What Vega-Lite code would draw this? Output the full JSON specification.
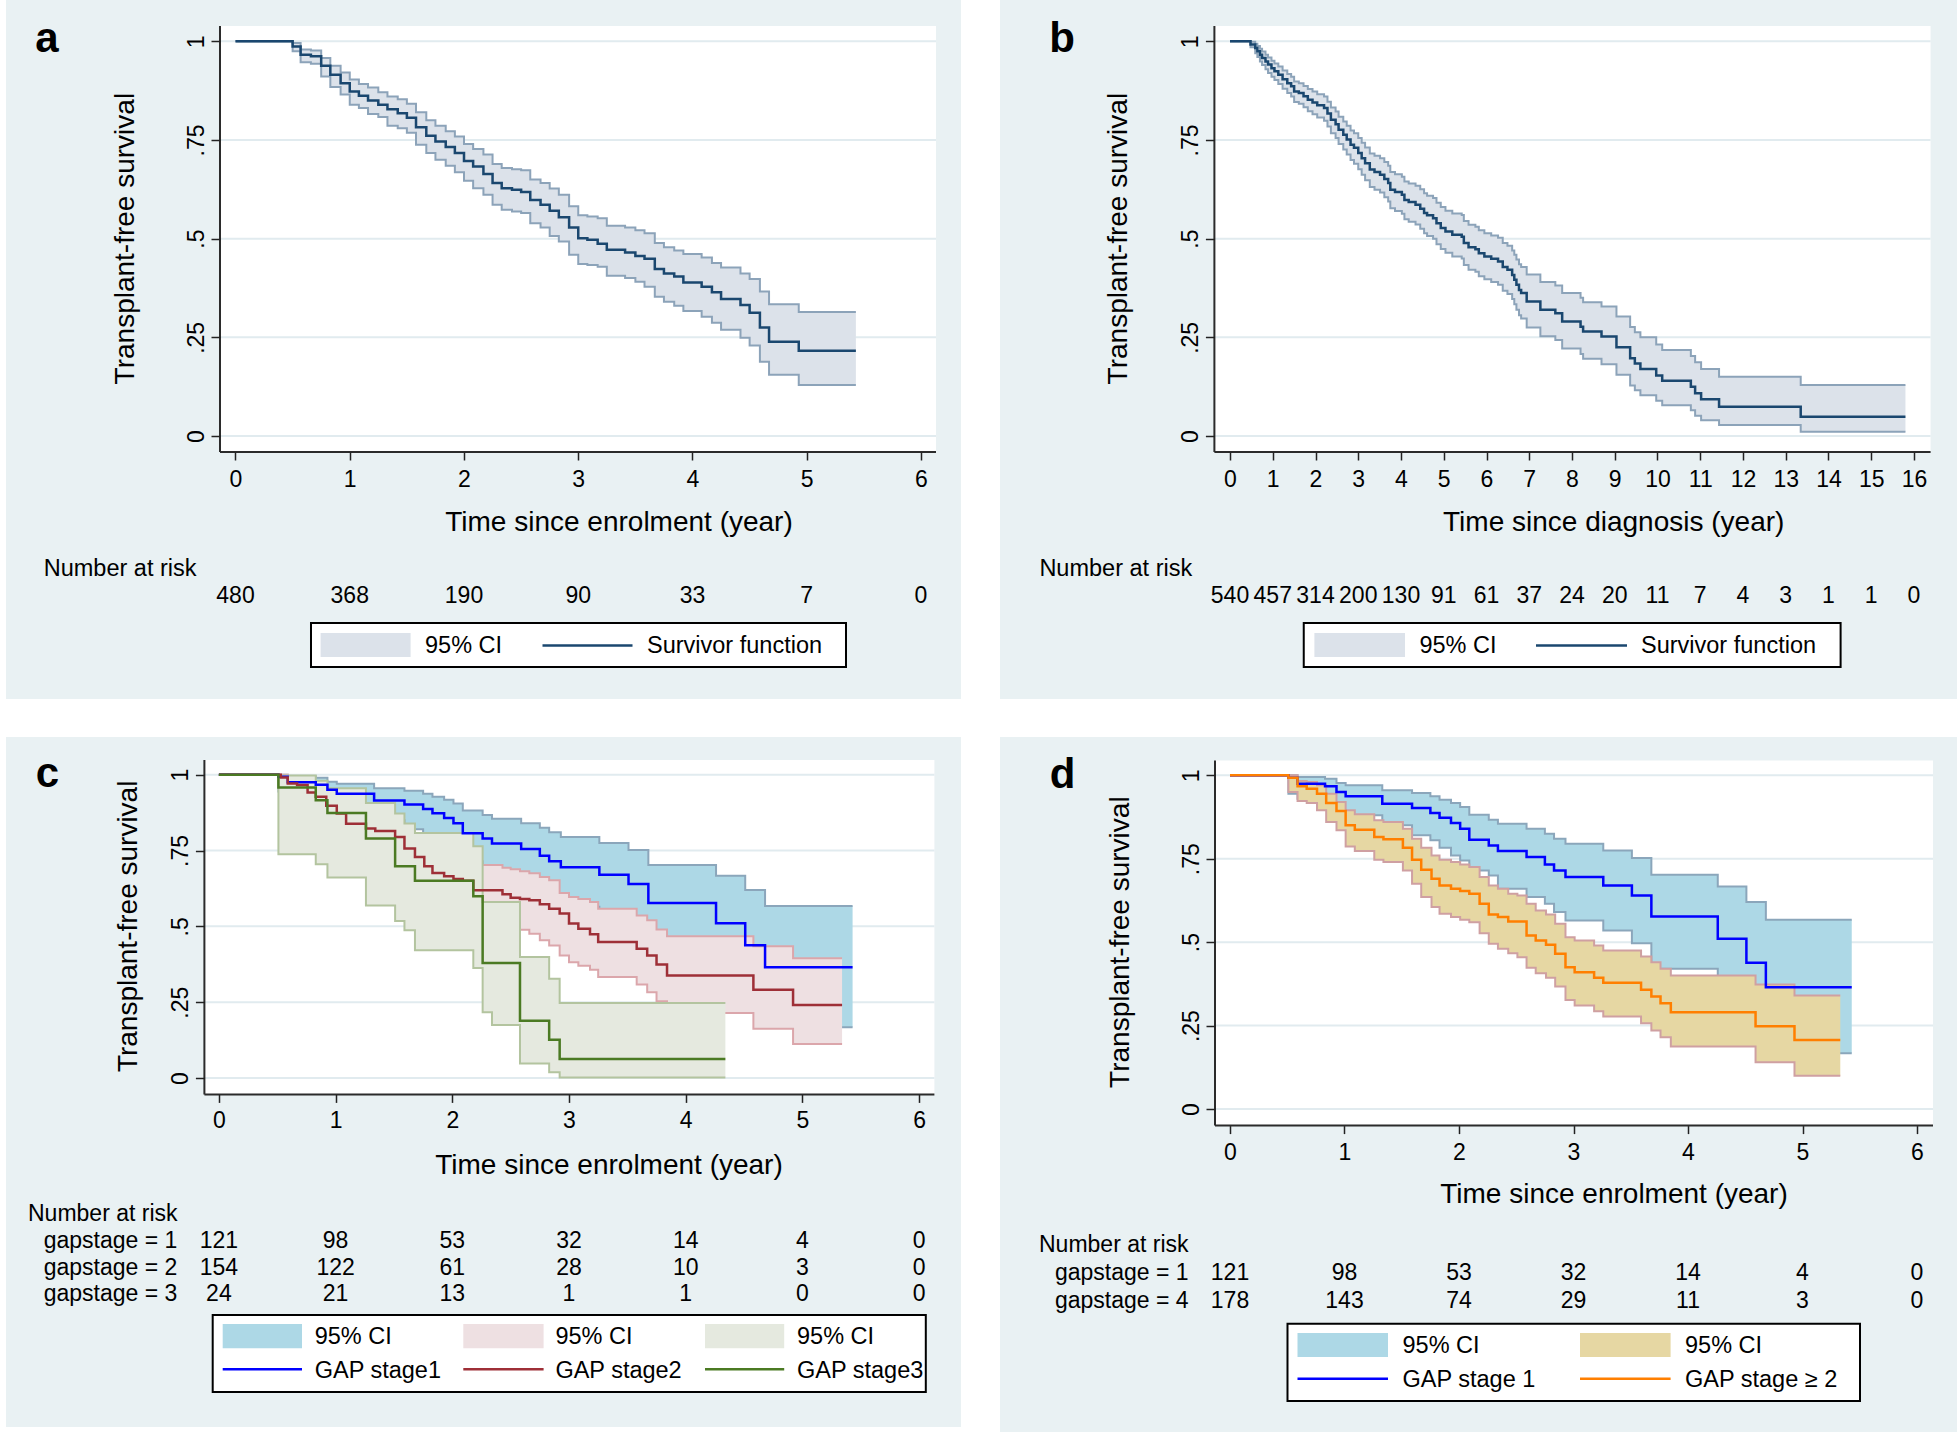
{
"$schema": "https://vega.github.io/schema/vega-lite/v6.json",
"background": "#ffffff",
"padding": {"left": 6, "top": 0, "right": 0, "bottom": 0},
"config": {
  "view": {"stroke": null, "fill": "#e9f1f3"},
  "axis": {"domain": false, "grid": false, "ticks": true, "tickColor": "#222222", "tickWidth": 1.5, "labelFont": "Liberation Sans", "labelFontSize": 23, "labelColor": "#000000", "labelFlush": false, "labelOverlap": false, "labelBound": false, "title": null},
  "text": {"font": "Liberation Sans", "color": "#000000"}
},
"datasets": {
  "grid": [{"v":0},{"v":0.25},{"v":0.5},{"v":0.75},{"v":1}],
  "a_km": [
    {"t":0,"s":1,"lo":1,"hi":1},{"t":0.5,"s":0.987,"lo":0.975,"hi":0.996},{"t":0.57,"s":0.966,"lo":0.947,"hi":0.979},{"t":0.66,"s":0.962,"lo":0.943,"hi":0.977},{"t":0.75,"s":0.938,"lo":0.911,"hi":0.958},{"t":0.83,"s":0.915,"lo":0.884,"hi":0.938},{"t":0.92,"s":0.894,"lo":0.865,"hi":0.921},{"t":1.0,"s":0.873,"lo":0.839,"hi":0.903},{"t":1.08,"s":0.862,"lo":0.831,"hi":0.892},{"t":1.16,"s":0.85,"lo":0.816,"hi":0.883},{"t":1.25,"s":0.839,"lo":0.808,"hi":0.871},{"t":1.33,"s":0.828,"lo":0.786,"hi":0.86},{"t":1.42,"s":0.818,"lo":0.78,"hi":0.853},{"t":1.5,"s":0.806,"lo":0.768,"hi":0.842},{"t":1.58,"s":0.782,"lo":0.738,"hi":0.82},{"t":1.67,"s":0.761,"lo":0.717,"hi":0.8},{"t":1.75,"s":0.746,"lo":0.7,"hi":0.786},{"t":1.84,"s":0.732,"lo":0.685,"hi":0.772},{"t":1.92,"s":0.717,"lo":0.668,"hi":0.759},{"t":2.0,"s":0.697,"lo":0.647,"hi":0.74},{"t":2.08,"s":0.683,"lo":0.628,"hi":0.727},{"t":2.17,"s":0.664,"lo":0.611,"hi":0.713},{"t":2.25,"s":0.641,"lo":0.586,"hi":0.689},{"t":2.33,"s":0.628,"lo":0.573,"hi":0.679},{"t":2.42,"s":0.624,"lo":0.569,"hi":0.676},{"t":2.5,"s":0.618,"lo":0.565,"hi":0.673},{"t":2.58,"s":0.598,"lo":0.539,"hi":0.65},{"t":2.67,"s":0.586,"lo":0.528,"hi":0.641},{"t":2.75,"s":0.571,"lo":0.507,"hi":0.627},{"t":2.83,"s":0.554,"lo":0.493,"hi":0.611},{"t":2.92,"s":0.528,"lo":0.459,"hi":0.582},{"t":3.0,"s":0.501,"lo":0.436,"hi":0.559},{"t":3.08,"s":0.497,"lo":0.433,"hi":0.556},{"t":3.17,"s":0.487,"lo":0.429,"hi":0.552},{"t":3.25,"s":0.472,"lo":0.406,"hi":0.533},{"t":3.41,"s":0.465,"lo":0.4,"hi":0.528},{"t":3.5,"s":0.456,"lo":0.391,"hi":0.521},{"t":3.58,"s":0.449,"lo":0.378,"hi":0.514},{"t":3.67,"s":0.423,"lo":0.353,"hi":0.489},{"t":3.75,"s":0.412,"lo":0.34,"hi":0.478},{"t":3.84,"s":0.404,"lo":0.33,"hi":0.47},{"t":3.92,"s":0.389,"lo":0.317,"hi":0.461},{"t":4.08,"s":0.378,"lo":0.302,"hi":0.452},{"t":4.17,"s":0.364,"lo":0.287,"hi":0.438},{"t":4.25,"s":0.347,"lo":0.269,"hi":0.427},{"t":4.42,"s":0.332,"lo":0.249,"hi":0.412},{"t":4.5,"s":0.312,"lo":0.229,"hi":0.398},{"t":4.59,"s":0.275,"lo":0.188,"hi":0.366},{"t":4.67,"s":0.239,"lo":0.155,"hi":0.334},{"t":4.93,"s":0.216,"lo":0.129,"hi":0.314},{"t":5.43,"s":0.216,"lo":0.129,"hi":0.314}
  ],
  "b_km": [
    {"t":0,"s":1,"lo":1,"hi":1},{"t":0.48,"s":0.992,"lo":0.985,"hi":0.999},{"t":0.59,"s":0.983,"lo":0.97,"hi":0.994},{"t":0.64,"s":0.975,"lo":0.96,"hi":0.988},{"t":0.7,"s":0.966,"lo":0.949,"hi":0.981},{"t":0.75,"s":0.958,"lo":0.94,"hi":0.974},{"t":0.83,"s":0.949,"lo":0.929,"hi":0.966},{"t":0.89,"s":0.941,"lo":0.92,"hi":0.959},{"t":0.97,"s":0.932,"lo":0.91,"hi":0.951},{"t":1.04,"s":0.924,"lo":0.902,"hi":0.944},{"t":1.13,"s":0.915,"lo":0.892,"hi":0.936},{"t":1.23,"s":0.904,"lo":0.88,"hi":0.926},{"t":1.34,"s":0.894,"lo":0.869,"hi":0.917},{"t":1.43,"s":0.886,"lo":0.86,"hi":0.91},{"t":1.5,"s":0.873,"lo":0.846,"hi":0.898},{"t":1.61,"s":0.869,"lo":0.842,"hi":0.894},{"t":1.72,"s":0.861,"lo":0.833,"hi":0.887},{"t":1.82,"s":0.852,"lo":0.823,"hi":0.879},{"t":1.93,"s":0.845,"lo":0.815,"hi":0.873},{"t":2.04,"s":0.838,"lo":0.807,"hi":0.866},{"t":2.2,"s":0.831,"lo":0.799,"hi":0.86},{"t":2.28,"s":0.817,"lo":0.784,"hi":0.847},{"t":2.36,"s":0.801,"lo":0.767,"hi":0.832},{"t":2.47,"s":0.79,"lo":0.755,"hi":0.822},{"t":2.54,"s":0.776,"lo":0.74,"hi":0.809},{"t":2.65,"s":0.763,"lo":0.726,"hi":0.797},{"t":2.73,"s":0.751,"lo":0.713,"hi":0.786},{"t":2.82,"s":0.738,"lo":0.699,"hi":0.774},{"t":2.9,"s":0.73,"lo":0.69,"hi":0.767},{"t":3.0,"s":0.717,"lo":0.676,"hi":0.755},{"t":3.08,"s":0.704,"lo":0.662,"hi":0.743},{"t":3.16,"s":0.691,"lo":0.648,"hi":0.731},{"t":3.27,"s":0.675,"lo":0.631,"hi":0.716},{"t":3.38,"s":0.669,"lo":0.624,"hi":0.71},{"t":3.51,"s":0.662,"lo":0.617,"hi":0.704},{"t":3.61,"s":0.651,"lo":0.605,"hi":0.694},{"t":3.7,"s":0.641,"lo":0.594,"hi":0.685},{"t":3.75,"s":0.624,"lo":0.577,"hi":0.669},{"t":3.86,"s":0.618,"lo":0.57,"hi":0.663},{"t":4.02,"s":0.611,"lo":0.563,"hi":0.657},{"t":4.08,"s":0.598,"lo":0.549,"hi":0.645},{"t":4.18,"s":0.593,"lo":0.543,"hi":0.64},{"t":4.34,"s":0.586,"lo":0.536,"hi":0.634},{"t":4.45,"s":0.576,"lo":0.525,"hi":0.625},{"t":4.54,"s":0.565,"lo":0.514,"hi":0.615},{"t":4.61,"s":0.559,"lo":0.507,"hi":0.609},{"t":4.75,"s":0.552,"lo":0.5,"hi":0.603},{"t":4.83,"s":0.539,"lo":0.486,"hi":0.591},{"t":4.93,"s":0.527,"lo":0.474,"hi":0.58},{"t":5.04,"s":0.518,"lo":0.464,"hi":0.571},{"t":5.2,"s":0.51,"lo":0.455,"hi":0.564},{"t":5.42,"s":0.505,"lo":0.45,"hi":0.56},{"t":5.47,"s":0.489,"lo":0.433,"hi":0.545},{"t":5.58,"s":0.478,"lo":0.421,"hi":0.535},{"t":5.74,"s":0.473,"lo":0.416,"hi":0.53},{"t":5.82,"s":0.463,"lo":0.405,"hi":0.521},{"t":5.95,"s":0.455,"lo":0.397,"hi":0.514},{"t":6.11,"s":0.449,"lo":0.39,"hi":0.508},{"t":6.27,"s":0.442,"lo":0.383,"hi":0.502},{"t":6.38,"s":0.428,"lo":0.368,"hi":0.489},{"t":6.49,"s":0.421,"lo":0.36,"hi":0.482},{"t":6.6,"s":0.408,"lo":0.347,"hi":0.47},{"t":6.65,"s":0.396,"lo":0.334,"hi":0.459},{"t":6.7,"s":0.383,"lo":0.32,"hi":0.447},{"t":6.76,"s":0.37,"lo":0.306,"hi":0.435},{"t":6.81,"s":0.362,"lo":0.298,"hi":0.428},{"t":6.94,"s":0.341,"lo":0.275,"hi":0.409},{"t":7.26,"s":0.32,"lo":0.253,"hi":0.39},{"t":7.61,"s":0.311,"lo":0.243,"hi":0.381},{"t":7.77,"s":0.29,"lo":0.222,"hi":0.362},{"t":8.2,"s":0.277,"lo":0.208,"hi":0.35},{"t":8.26,"s":0.265,"lo":0.196,"hi":0.339},{"t":8.69,"s":0.252,"lo":0.182,"hi":0.328},{"t":9.04,"s":0.225,"lo":0.155,"hi":0.303},{"t":9.36,"s":0.197,"lo":0.128,"hi":0.276},{"t":9.47,"s":0.184,"lo":0.116,"hi":0.263},{"t":9.6,"s":0.17,"lo":0.103,"hi":0.25},{"t":9.97,"s":0.153,"lo":0.089,"hi":0.232},{"t":10.11,"s":0.14,"lo":0.078,"hi":0.218},{"t":10.78,"s":0.125,"lo":0.065,"hi":0.203},{"t":10.88,"s":0.108,"lo":0.051,"hi":0.187},{"t":11.02,"s":0.093,"lo":0.04,"hi":0.17},{"t":11.44,"s":0.074,"lo":0.028,"hi":0.15},{"t":13.35,"s":0.049,"lo":0.011,"hi":0.129},{"t":15.8,"s":0.049,"lo":0.011,"hi":0.129}
  ],
  "g1": [
    {"t":0,"s":1,"lo":1,"hi":1},{"t":0.51,"s":0.993,"lo":0.945,"hi":1.0},{"t":0.59,"s":0.975,"lo":0.93,"hi":0.995},{"t":0.83,"s":0.967,"lo":0.92,"hi":0.99},{"t":0.93,"s":0.95,"lo":0.895,"hi":0.977},{"t":1.01,"s":0.937,"lo":0.88,"hi":0.97},{"t":1.33,"s":0.915,"lo":0.85,"hi":0.955},{"t":1.59,"s":0.902,"lo":0.82,"hi":0.947},{"t":1.75,"s":0.887,"lo":0.805,"hi":0.937},{"t":1.83,"s":0.873,"lo":0.783,"hi":0.927},{"t":1.93,"s":0.857,"lo":0.76,"hi":0.917},{"t":2.01,"s":0.84,"lo":0.745,"hi":0.905},{"t":2.09,"s":0.807,"lo":0.715,"hi":0.882},{"t":2.26,"s":0.79,"lo":0.7,"hi":0.867},{"t":2.34,"s":0.773,"lo":0.66,"hi":0.855},{"t":2.59,"s":0.755,"lo":0.635,"hi":0.84},{"t":2.75,"s":0.733,"lo":0.615,"hi":0.825},{"t":2.83,"s":0.715,"lo":0.59,"hi":0.81},{"t":2.93,"s":0.695,"lo":0.565,"hi":0.795},{"t":3.26,"s":0.67,"lo":0.535,"hi":0.775},{"t":3.51,"s":0.64,"lo":0.497,"hi":0.752},{"t":3.68,"s":0.577,"lo":0.42,"hi":0.702},{"t":4.26,"s":0.51,"lo":0.33,"hi":0.667},{"t":4.51,"s":0.438,"lo":0.25,"hi":0.62},{"t":4.68,"s":0.365,"lo":0.167,"hi":0.567},{"t":5.43,"s":0.365,"lo":0.167,"hi":0.567}
  ],
  "g2": [
    {"t":0,"s":1,"lo":1,"hi":1},{"t":0.53,"s":0.991,"lo":0.965,"hi":1.0},{"t":0.59,"s":0.971,"lo":0.94,"hi":0.99},{"t":0.67,"s":0.966,"lo":0.935,"hi":0.985},{"t":0.76,"s":0.941,"lo":0.905,"hi":0.965},{"t":0.83,"s":0.927,"lo":0.89,"hi":0.955},{"t":0.92,"s":0.898,"lo":0.855,"hi":0.93},{"t":1.01,"s":0.872,"lo":0.825,"hi":0.91},{"t":1.09,"s":0.838,"lo":0.79,"hi":0.878},{"t":1.26,"s":0.823,"lo":0.775,"hi":0.865},{"t":1.34,"s":0.814,"lo":0.765,"hi":0.857},{"t":1.51,"s":0.795,"lo":0.74,"hi":0.84},{"t":1.59,"s":0.757,"lo":0.695,"hi":0.805},{"t":1.68,"s":0.729,"lo":0.665,"hi":0.78},{"t":1.76,"s":0.698,"lo":0.63,"hi":0.75},{"t":1.83,"s":0.676,"lo":0.608,"hi":0.73},{"t":1.93,"s":0.665,"lo":0.595,"hi":0.725},{"t":2.01,"s":0.656,"lo":0.585,"hi":0.718},{"t":2.09,"s":0.65,"lo":0.578,"hi":0.712},{"t":2.18,"s":0.619,"lo":0.55,"hi":0.702},{"t":2.43,"s":0.606,"lo":0.535,"hi":0.693},{"t":2.5,"s":0.594,"lo":0.51,"hi":0.688},{"t":2.58,"s":0.59,"lo":0.489,"hi":0.682},{"t":2.66,"s":0.586,"lo":0.476,"hi":0.675},{"t":2.75,"s":0.573,"lo":0.454,"hi":0.663},{"t":2.83,"s":0.558,"lo":0.437,"hi":0.652},{"t":2.92,"s":0.542,"lo":0.404,"hi":0.61},{"t":3.0,"s":0.509,"lo":0.382,"hi":0.597},{"t":3.08,"s":0.492,"lo":0.37,"hi":0.59},{"t":3.18,"s":0.474,"lo":0.357,"hi":0.58},{"t":3.25,"s":0.448,"lo":0.333,"hi":0.558},{"t":3.58,"s":0.426,"lo":0.308,"hi":0.536},{"t":3.67,"s":0.404,"lo":0.283,"hi":0.52},{"t":3.75,"s":0.374,"lo":0.253,"hi":0.49},{"t":3.84,"s":0.338,"lo":0.214,"hi":0.467},{"t":4.58,"s":0.291,"lo":0.162,"hi":0.434},{"t":4.92,"s":0.241,"lo":0.112,"hi":0.395},{"t":5.34,"s":0.241,"lo":0.112,"hi":0.395}
  ],
  "g3": [
    {"t":0,"s":1,"lo":1,"hi":1},{"t":0.51,"s":0.958,"lo":0.738,"hi":0.997},{"t":0.83,"s":0.916,"lo":0.705,"hi":0.98},{"t":0.93,"s":0.874,"lo":0.661,"hi":0.955},{"t":1.26,"s":0.79,"lo":0.569,"hi":0.907},{"t":1.51,"s":0.698,"lo":0.518,"hi":0.872},{"t":1.59,"s":0.698,"lo":0.487,"hi":0.839},{"t":1.68,"s":0.65,"lo":0.421,"hi":0.808},{"t":2.18,"s":0.599,"lo":0.363,"hi":0.764},{"t":2.26,"s":0.379,"lo":0.217,"hi":0.58},{"t":2.34,"s":0.379,"lo":0.175,"hi":0.58},{"t":2.58,"s":0.189,"lo":0.048,"hi":0.399},{"t":2.83,"s":0.126,"lo":0.019,"hi":0.327},{"t":2.92,"s":0.063,"lo":0.002,"hi":0.247},{"t":4.34,"s":0.063,"lo":0.002,"hi":0.247}
  ],
  "g4": [
    {"t":0,"s":1,"lo":1,"hi":1},{"t":0.51,"s":0.993,"lo":0.95,"hi":1.0},{"t":0.59,"s":0.967,"lo":0.923,"hi":0.983},{"t":0.67,"s":0.96,"lo":0.917,"hi":0.98},{"t":0.76,"s":0.945,"lo":0.895,"hi":0.97},{"t":0.84,"s":0.917,"lo":0.86,"hi":0.945},{"t":0.93,"s":0.893,"lo":0.835,"hi":0.92},{"t":1.01,"s":0.85,"lo":0.787,"hi":0.895},{"t":1.09,"s":0.837,"lo":0.773,"hi":0.883},{"t":1.26,"s":0.815,"lo":0.747,"hi":0.865},{"t":1.34,"s":0.808,"lo":0.74,"hi":0.86},{"t":1.51,"s":0.783,"lo":0.715,"hi":0.84},{"t":1.59,"s":0.747,"lo":0.675,"hi":0.81},{"t":1.67,"s":0.717,"lo":0.635,"hi":0.783},{"t":1.76,"s":0.69,"lo":0.605,"hi":0.76},{"t":1.83,"s":0.67,"lo":0.585,"hi":0.747},{"t":1.93,"s":0.66,"lo":0.575,"hi":0.74},{"t":2.01,"s":0.653,"lo":0.567,"hi":0.733},{"t":2.09,"s":0.645,"lo":0.56,"hi":0.725},{"t":2.18,"s":0.615,"lo":0.527,"hi":0.695},{"t":2.26,"s":0.583,"lo":0.495,"hi":0.67},{"t":2.34,"s":0.575,"lo":0.48,"hi":0.66},{"t":2.43,"s":0.562,"lo":0.467,"hi":0.645},{"t":2.51,"s":0.562,"lo":0.455,"hi":0.64},{"t":2.59,"s":0.52,"lo":0.423,"hi":0.615},{"t":2.67,"s":0.505,"lo":0.407,"hi":0.595},{"t":2.76,"s":0.492,"lo":0.393,"hi":0.583},{"t":2.84,"s":0.465,"lo":0.367,"hi":0.555},{"t":2.93,"s":0.425,"lo":0.327,"hi":0.515},{"t":3.01,"s":0.41,"lo":0.31,"hi":0.505},{"t":3.18,"s":0.393,"lo":0.293,"hi":0.49},{"t":3.26,"s":0.378,"lo":0.277,"hi":0.475},{"t":3.59,"s":0.357,"lo":0.257,"hi":0.457},{"t":3.68,"s":0.337,"lo":0.235,"hi":0.44},{"t":3.76,"s":0.317,"lo":0.215,"hi":0.42},{"t":3.85,"s":0.29,"lo":0.187,"hi":0.4},{"t":4.59,"s":0.248,"lo":0.14,"hi":0.373},{"t":4.93,"s":0.207,"lo":0.1,"hi":0.34},{"t":5.33,"s":0.207,"lo":0.1,"hi":0.34}
  ],
  "a_risk": [{"t":0,"n":"480"},{"t":1,"n":"368"},{"t":2,"n":"190"},{"t":3,"n":"90"},{"t":4,"n":"33"},{"t":5,"n":"7"},{"t":6,"n":"0"}],
  "b_risk": [{"t":0,"n":"540"},{"t":1,"n":"457"},{"t":2,"n":"314"},{"t":3,"n":"200"},{"t":4,"n":"130"},{"t":5,"n":"91"},{"t":6,"n":"61"},{"t":7,"n":"37"},{"t":8,"n":"24"},{"t":9,"n":"20"},{"t":10,"n":"11"},{"t":11,"n":"7"},{"t":12,"n":"4"},{"t":13,"n":"3"},{"t":14,"n":"1"},{"t":15,"n":"1"},{"t":16,"n":"0"}],
  "c_risk": [
    {"g":1,"t":0,"n":"121"},{"g":1,"t":1,"n":"98"},{"g":1,"t":2,"n":"53"},{"g":1,"t":3,"n":"32"},{"g":1,"t":4,"n":"14"},{"g":1,"t":5,"n":"4"},{"g":1,"t":6,"n":"0"},
    {"g":2,"t":0,"n":"154"},{"g":2,"t":1,"n":"122"},{"g":2,"t":2,"n":"61"},{"g":2,"t":3,"n":"28"},{"g":2,"t":4,"n":"10"},{"g":2,"t":5,"n":"3"},{"g":2,"t":6,"n":"0"},
    {"g":3,"t":0,"n":"24"},{"g":3,"t":1,"n":"21"},{"g":3,"t":2,"n":"13"},{"g":3,"t":3,"n":"1"},{"g":3,"t":4,"n":"1"},{"g":3,"t":5,"n":"0"},{"g":3,"t":6,"n":"0"}
  ],
  "d_risk": [
    {"g":1,"t":0,"n":"121"},{"g":1,"t":1,"n":"98"},{"g":1,"t":2,"n":"53"},{"g":1,"t":3,"n":"32"},{"g":1,"t":4,"n":"14"},{"g":1,"t":5,"n":"4"},{"g":1,"t":6,"n":"0"},
    {"g":4,"t":0,"n":"178"},{"g":4,"t":1,"n":"143"},{"g":4,"t":2,"n":"74"},{"g":4,"t":3,"n":"29"},{"g":4,"t":4,"n":"11"},{"g":4,"t":5,"n":"3"},{"g":4,"t":6,"n":"0"}
  ]
},
"spacing": 38,
"vconcat": [
{"hconcat": [
{
"width": 955, "height": 699,
"layer": [
  {"data": {"values": [{}]}, "mark": {"type": "rect", "fill": "#ffffff"},
   "encoding": {
     "x": {"datum": -0.13567, "type": "quantitative", "scale": {"domain": [-2.00875, 6.35011], "nice": false, "zero": false},
           "axis": {"orient": "bottom", "offset": -247, "values": [0,1,2,3,4,5,6], "format": "d", "tickSize": 8, "labelPadding": 8, "title": null, "zindex": 1}},
     "x2": {"datum": 6.13129},
     "y": {"datum": 1.03876, "type": "quantitative", "scale": {"domain": [-0.66633, 1.10464], "nice": false, "zero": false},
           "axis": {"orient": "left", "offset": -214, "values": [0,0.25,0.5,0.75,1], "labelExpr": "datum.value == 1 ? '1' : datum.value == 0.75 ? '.75' : datum.value == 0.5 ? '.5' : datum.value == 0.25 ? '.25' : '0'", "labelAngle": 270, "labelAlign": "center", "labelBaseline": "alphabetic", "tickSize": 9, "labelPadding": 8, "title": null, "zindex": 1}},
     "y2": {"datum": -0.04054}}},
  {"data": {"name": "grid"}, "mark": {"type": "rule", "color": "#e1ebef", "strokeWidth": 2},
   "encoding": {"x": {"datum": -0.13567, "type": "quantitative"}, "x2": {"datum": 6.13129}, "y": {"field": "v", "type": "quantitative"}}},
  {"data": {"name": "a_km"}, "mark": {"type": "area", "interpolate": "step-after", "color": "#dce2ea"},
   "encoding": {"x": {"field": "t", "type": "quantitative"}, "y": {"field": "lo", "type": "quantitative"}, "y2": {"field": "hi"}}},
  {"data": {"name": "a_km"}, "mark": {"type": "line", "interpolate": "step-after", "color": "#8ca3b9", "strokeWidth": 2},
   "encoding": {"x": {"field": "t", "type": "quantitative"}, "y": {"field": "lo", "type": "quantitative"}}},
  {"data": {"name": "a_km"}, "mark": {"type": "line", "interpolate": "step-after", "color": "#8ca3b9", "strokeWidth": 2},
   "encoding": {"x": {"field": "t", "type": "quantitative"}, "y": {"field": "hi", "type": "quantitative"}}},
  {"data": {"name": "a_km"}, "mark": {"type": "line", "interpolate": "step-after", "color": "#1a476f", "strokeWidth": 2.5},
   "encoding": {"x": {"field": "t", "type": "quantitative"}, "y": {"field": "s", "type": "quantitative"}}},
  {"data": {"values": [{}]}, "mark": {"type": "rule", "color": "#2b2b2b", "strokeWidth": 2},
   "encoding": {"x": {"datum": -0.13567, "type": "quantitative"}, "x2": {"datum": 6.13129}, "y": {"datum": -0.04054, "type": "quantitative"}}},
  {"data": {"values": [{}]}, "mark": {"type": "rule", "color": "#2b2b2b", "strokeWidth": 2},
   "encoding": {"x": {"datum": -0.13567, "type": "quantitative"}, "y": {"datum": -0.04054, "type": "quantitative"}, "y2": {"datum": 1.03876}}},
  {"data": {"values": [{}]}, "mark": {"type": "text", "text": "a", "fontSize": 42, "fontWeight": "bold", "align": "center", "baseline": "alphabetic"},
   "encoding": {"x": {"datum": -1.6499, "type": "quantitative"}, "y": {"datum": 0.97163, "type": "quantitative"}}},
  {"data": {"values": [{}]}, "mark": {"type": "text", "text": "Transplant-free survival", "fontSize": 28, "angle": 270, "align": "center", "baseline": "alphabetic"},
   "encoding": {"x": {"datum": -0.88403, "type": "quantitative"}, "y": {"datum": 0.5, "type": "quantitative"}}},
  {"data": {"values": [{}]}, "mark": {"type": "text", "text": "Time since enrolment (year)", "fontSize": 28, "align": "center", "baseline": "alphabetic"},
   "encoding": {"x": {"datum": 3.35667, "type": "quantitative"}, "y": {"datum": -0.24069, "type": "quantitative"}}},
  {"data": {"values": [{}]}, "mark": {"type": "text", "text": "Number at risk", "fontSize": 23.5, "align": "left", "baseline": "alphabetic"},
   "encoding": {"x": {"datum": -1.67834, "type": "quantitative"}, "y": {"datum": -0.3547, "type": "quantitative"}}},
  {"data": {"name": "a_risk"}, "mark": {"type": "text", "fontSize": 23, "align": "center", "baseline": "alphabetic"},
   "encoding": {"x": {"field": "t", "type": "quantitative"}, "y": {"datum": -0.42311, "type": "quantitative"}, "text": {"field": "n", "type": "nominal"}}},
  {"data": {"values": [{}]}, "mark": {"type": "rect", "fill": "#ffffff", "stroke": "#000000", "strokeWidth": 2},
   "encoding": {"x": {"datum": 0.66083, "type": "quantitative"}, "x2": {"datum": 5.34354}, "y": {"datum": -0.47378, "type": "quantitative"}, "y2": {"datum": -0.58525}}},
  {"data": {"values": [{}]}, "mark": {"type": "rect", "fill": "#dce2ea"},
   "encoding": {"x": {"datum": 0.74486, "type": "quantitative"}, "x2": {"datum": 1.5326}, "y": {"datum": -0.49911, "type": "quantitative"}, "y2": {"datum": -0.55992}}},
  {"data": {"values": [{}]}, "mark": {"type": "rule", "color": "#1a476f", "strokeWidth": 2.5},
   "encoding": {"x": {"datum": 2.68709, "type": "quantitative"}, "x2": {"datum": 3.47484}, "y": {"datum": -0.53053, "type": "quantitative"}}},
  {"data": {"values": [{}]}, "mark": {"type": "text", "text": "95% CI", "fontSize": 23.5, "align": "left", "baseline": "alphabetic"},
   "encoding": {"x": {"datum": 1.65864, "type": "quantitative"}, "y": {"datum": -0.55, "type": "quantitative"}}},
  {"data": {"values": [{}]}, "mark": {"type": "text", "text": "Survivor function", "fontSize": 23.5, "align": "left", "baseline": "alphabetic"},
   "encoding": {"x": {"datum": 3.60175, "type": "quantitative"}, "y": {"datum": -0.55, "type": "quantitative"}}}
]
},
{
"width": 957, "height": 699,
"layer": [
  {"data": {"values": [{}]}, "mark": {"type": "rect", "fill": "#ffffff"},
   "encoding": {
     "x": {"datum": -0.36491, "type": "quantitative", "scale": {"domain": [-5.38012, 17.00585], "nice": false, "zero": false},
           "axis": {"orient": "bottom", "offset": -247, "values": [0,1,2,3,4,5,6,7,8,9,10,11,12,13,14,15,16], "format": "d", "tickSize": 8, "labelPadding": 8, "title": null, "zindex": 1}},
     "x2": {"datum": 16.3883},
     "y": {"datum": 1.03876, "type": "quantitative", "scale": {"domain": [-0.66633, 1.10464], "nice": false, "zero": false},
           "axis": {"orient": "left", "offset": -214.4, "values": [0,0.25,0.5,0.75,1], "labelExpr": "datum.value == 1 ? '1' : datum.value == 0.75 ? '.75' : datum.value == 0.5 ? '.5' : datum.value == 0.25 ? '.25' : '0'", "labelAngle": 270, "labelAlign": "center", "labelBaseline": "alphabetic", "tickSize": 9, "labelPadding": 8, "title": null, "zindex": 1}},
     "y2": {"datum": -0.04054}}},
  {"data": {"name": "grid"}, "mark": {"type": "rule", "color": "#e1ebef", "strokeWidth": 2},
   "encoding": {"x": {"datum": -0.36491, "type": "quantitative"}, "x2": {"datum": 16.3883}, "y": {"field": "v", "type": "quantitative"}}},
  {"data": {"name": "b_km"}, "mark": {"type": "area", "interpolate": "step-after", "color": "#dce2ea"},
   "encoding": {"x": {"field": "t", "type": "quantitative"}, "y": {"field": "lo", "type": "quantitative"}, "y2": {"field": "hi"}}},
  {"data": {"name": "b_km"}, "mark": {"type": "line", "interpolate": "step-after", "color": "#8ca3b9", "strokeWidth": 2},
   "encoding": {"x": {"field": "t", "type": "quantitative"}, "y": {"field": "lo", "type": "quantitative"}}},
  {"data": {"name": "b_km"}, "mark": {"type": "line", "interpolate": "step-after", "color": "#8ca3b9", "strokeWidth": 2},
   "encoding": {"x": {"field": "t", "type": "quantitative"}, "y": {"field": "hi", "type": "quantitative"}}},
  {"data": {"name": "b_km"}, "mark": {"type": "line", "interpolate": "step-after", "color": "#1a476f", "strokeWidth": 2.5},
   "encoding": {"x": {"field": "t", "type": "quantitative"}, "y": {"field": "s", "type": "quantitative"}}},
  {"data": {"values": [{}]}, "mark": {"type": "rule", "color": "#2b2b2b", "strokeWidth": 2},
   "encoding": {"x": {"datum": -0.36491, "type": "quantitative"}, "x2": {"datum": 16.3883}, "y": {"datum": -0.04054, "type": "quantitative"}}},
  {"data": {"values": [{}]}, "mark": {"type": "rule", "color": "#2b2b2b", "strokeWidth": 2},
   "encoding": {"x": {"datum": -0.36491, "type": "quantitative"}, "y": {"datum": -0.04054, "type": "quantitative"}, "y2": {"datum": 1.03876}}},
  {"data": {"values": [{}]}, "mark": {"type": "text", "text": "b", "fontSize": 42, "fontWeight": "bold", "align": "center", "baseline": "alphabetic"},
   "encoding": {"x": {"datum": -3.92982, "type": "quantitative"}, "y": {"datum": 0.97163, "type": "quantitative"}}},
  {"data": {"values": [{}]}, "mark": {"type": "text", "text": "Transplant-free survival", "fontSize": 28, "angle": 270, "align": "center", "baseline": "alphabetic"},
   "encoding": {"x": {"datum": -2.40936, "type": "quantitative"}, "y": {"datum": 0.5, "type": "quantitative"}}},
  {"data": {"values": [{}]}, "mark": {"type": "text", "text": "Time since diagnosis (year)", "fontSize": 28, "align": "center", "baseline": "alphabetic"},
   "encoding": {"x": {"datum": 8.97544, "type": "quantitative"}, "y": {"datum": -0.24069, "type": "quantitative"}}},
  {"data": {"values": [{}]}, "mark": {"type": "text", "text": "Number at risk", "fontSize": 23.5, "align": "left", "baseline": "alphabetic"},
   "encoding": {"x": {"datum": -4.45848, "type": "quantitative"}, "y": {"datum": -0.3547, "type": "quantitative"}}},
  {"data": {"name": "b_risk"}, "mark": {"type": "text", "fontSize": 23, "align": "center", "baseline": "alphabetic"},
   "encoding": {"x": {"field": "t", "type": "quantitative"}, "y": {"datum": -0.42311, "type": "quantitative"}, "text": {"field": "n", "type": "nominal"}}},
  {"data": {"values": [{}]}, "mark": {"type": "rect", "fill": "#ffffff", "stroke": "#000000", "strokeWidth": 2},
   "encoding": {"x": {"datum": 1.72515, "type": "quantitative"}, "x2": {"datum": 14.28304}, "y": {"datum": -0.47378, "type": "quantitative"}, "y2": {"datum": -0.58525}}},
  {"data": {"values": [{}]}, "mark": {"type": "rect", "fill": "#dce2ea"},
   "encoding": {"x": {"datum": 1.97427, "type": "quantitative"}, "x2": {"datum": 4.09357}, "y": {"datum": -0.49911, "type": "quantitative"}, "y2": {"datum": -0.55992}}},
  {"data": {"values": [{}]}, "mark": {"type": "rule", "color": "#1a476f", "strokeWidth": 2.5},
   "encoding": {"x": {"datum": 7.15789, "type": "quantitative"}, "x2": {"datum": 9.28655}, "y": {"datum": -0.53053, "type": "quantitative"}}},
  {"data": {"values": [{}]}, "mark": {"type": "text", "text": "95% CI", "fontSize": 23.5, "align": "left", "baseline": "alphabetic"},
   "encoding": {"x": {"datum": 4.43041, "type": "quantitative"}, "y": {"datum": -0.55, "type": "quantitative"}}},
  {"data": {"values": [{}]}, "mark": {"type": "text", "text": "Survivor function", "fontSize": 23.5, "align": "left", "baseline": "alphabetic"},
   "encoding": {"x": {"datum": 9.61404, "type": "quantitative"}, "y": {"datum": -0.55, "type": "quantitative"}}}
]
}
], "spacing": 39, "bounds": "flush"},
{"hconcat": [
{
"width": 955, "height": 690,
"layer": [
  {"data": {"values": [{}]}, "mark": {"type": "rect", "fill": "#ffffff"},
   "encoding": {
     "x": {"datum": -0.12425, "type": "quantitative", "scale": {"domain": [-1.82434, 6.35904], "nice": false, "zero": false},
           "axis": {"orient": "bottom", "offset": -332.6, "values": [0,1,2,3,4,5,6], "format": "d", "tickSize": 8, "labelPadding": 7, "title": null, "zindex": 1}},
     "x2": {"datum": 6.13111},
     "y": {"datum": 1.04847, "type": "quantitative", "scale": {"domain": [-1.15067, 1.1243], "nice": false, "zero": false},
           "axis": {"orient": "left", "offset": -198.4, "values": [0,0.25,0.5,0.75,1], "labelExpr": "datum.value == 1 ? '1' : datum.value == 0.75 ? '.75' : datum.value == 0.5 ? '.5' : datum.value == 0.25 ? '.25' : '0'", "labelAngle": 270, "labelAlign": "center", "labelBaseline": "alphabetic", "tickSize": 9, "labelPadding": 8, "title": null, "zindex": 1}},
     "y2": {"datum": -0.05407}}},
  {"data": {"name": "grid"}, "mark": {"type": "rule", "color": "#e1ebef", "strokeWidth": 2},
   "encoding": {"x": {"datum": -0.12425, "type": "quantitative"}, "x2": {"datum": 6.13111}, "y": {"field": "v", "type": "quantitative"}}},
  {"data": {"name": "g1"}, "mark": {"type": "area", "interpolate": "step-after", "color": "#add8e6"},
   "encoding": {"x": {"field": "t", "type": "quantitative"}, "y": {"field": "lo", "type": "quantitative"}, "y2": {"field": "hi"}}},
  {"data": {"name": "g1"}, "mark": {"type": "line", "interpolate": "step-after", "color": "#8ba6bb", "strokeWidth": 2},
   "encoding": {"x": {"field": "t", "type": "quantitative"}, "y": {"field": "lo", "type": "quantitative"}}},
  {"data": {"name": "g1"}, "mark": {"type": "line", "interpolate": "step-after", "color": "#8ba6bb", "strokeWidth": 2},
   "encoding": {"x": {"field": "t", "type": "quantitative"}, "y": {"field": "hi", "type": "quantitative"}}},
  {"data": {"name": "g2"}, "mark": {"type": "area", "interpolate": "step-after", "color": "#eee0e2"},
   "encoding": {"x": {"field": "t", "type": "quantitative"}, "y": {"field": "lo", "type": "quantitative"}, "y2": {"field": "hi"}}},
  {"data": {"name": "g2"}, "mark": {"type": "line", "interpolate": "step-after", "color": "#dba6ab", "strokeWidth": 2},
   "encoding": {"x": {"field": "t", "type": "quantitative"}, "y": {"field": "lo", "type": "quantitative"}}},
  {"data": {"name": "g2"}, "mark": {"type": "line", "interpolate": "step-after", "color": "#dba6ab", "strokeWidth": 2},
   "encoding": {"x": {"field": "t", "type": "quantitative"}, "y": {"field": "hi", "type": "quantitative"}}},
  {"data": {"name": "g3"}, "mark": {"type": "area", "interpolate": "step-after", "color": "#e5e9df"},
   "encoding": {"x": {"field": "t", "type": "quantitative"}, "y": {"field": "lo", "type": "quantitative"}, "y2": {"field": "hi"}}},
  {"data": {"name": "g3"}, "mark": {"type": "line", "interpolate": "step-after", "color": "#b3c49f", "strokeWidth": 2},
   "encoding": {"x": {"field": "t", "type": "quantitative"}, "y": {"field": "lo", "type": "quantitative"}}},
  {"data": {"name": "g3"}, "mark": {"type": "line", "interpolate": "step-after", "color": "#b3c49f", "strokeWidth": 2},
   "encoding": {"x": {"field": "t", "type": "quantitative"}, "y": {"field": "hi", "type": "quantitative"}}},
  {"data": {"name": "g1"}, "mark": {"type": "line", "interpolate": "step-after", "color": "#0000ff", "strokeWidth": 2.5},
   "encoding": {"x": {"field": "t", "type": "quantitative"}, "y": {"field": "s", "type": "quantitative"}}},
  {"data": {"name": "g2"}, "mark": {"type": "line", "interpolate": "step-after", "color": "#9e2f37", "strokeWidth": 2.5},
   "encoding": {"x": {"field": "t", "type": "quantitative"}, "y": {"field": "s", "type": "quantitative"}}},
  {"data": {"name": "g3"}, "mark": {"type": "line", "interpolate": "step-after", "color": "#4b7a23", "strokeWidth": 2.5},
   "encoding": {"x": {"field": "t", "type": "quantitative"}, "y": {"field": "s", "type": "quantitative"}}},
  {"data": {"values": [{}]}, "mark": {"type": "rule", "color": "#2b2b2b", "strokeWidth": 2},
   "encoding": {"x": {"datum": -0.12425, "type": "quantitative"}, "x2": {"datum": 6.13111}, "y": {"datum": -0.05407, "type": "quantitative"}}},
  {"data": {"values": [{}]}, "mark": {"type": "rule", "color": "#2b2b2b", "strokeWidth": 2},
   "encoding": {"x": {"datum": -0.12425, "type": "quantitative"}, "y": {"datum": -0.05407, "type": "quantitative"}, "y2": {"datum": 1.04847}}},
  {"data": {"values": [{}]}, "mark": {"type": "text", "text": "c", "fontSize": 42, "fontWeight": "bold", "align": "center", "baseline": "alphabetic"},
   "encoding": {"x": {"datum": -1.46872, "type": "quantitative"}, "y": {"datum": 0.95945, "type": "quantitative"}}},
  {"data": {"values": [{}]}, "mark": {"type": "text", "text": "Transplant-free survival", "fontSize": 28, "angle": 270, "align": "center", "baseline": "alphabetic"},
   "encoding": {"x": {"datum": -0.70608, "type": "quantitative"}, "y": {"datum": 0.5, "type": "quantitative"}}},
  {"data": {"values": [{}]}, "mark": {"type": "text", "text": "Time since enrolment (year)", "fontSize": 28, "align": "center", "baseline": "alphabetic"},
   "encoding": {"x": {"datum": 3.34276, "type": "quantitative"}, "y": {"datum": -0.31487, "type": "quantitative"}}},
  {"data": {"values": [{}]}, "mark": {"type": "text", "text": "Number at risk", "fontSize": 23, "align": "left", "baseline": "alphabetic"},
   "encoding": {"x": {"datum": -1.63582, "type": "quantitative"}, "y": {"datum": -0.47016, "type": "quantitative"}}},
  {"data": {"values": [{}]}, "mark": {"type": "text", "text": "gapstage = 1", "fontSize": 23, "align": "left", "baseline": "alphabetic"},
   "encoding": {"x": {"datum": -1.50086, "type": "quantitative"}, "y": {"datum": -0.5605, "type": "quantitative"}}},
  {"data": {"values": [{}]}, "mark": {"type": "text", "text": "gapstage = 2", "fontSize": 23, "align": "left", "baseline": "alphabetic"},
   "encoding": {"x": {"datum": -1.50086, "type": "quantitative"}, "y": {"datum": -0.64952, "type": "quantitative"}}},
  {"data": {"values": [{}]}, "mark": {"type": "text", "text": "gapstage = 3", "fontSize": 23, "align": "left", "baseline": "alphabetic"},
   "encoding": {"x": {"datum": -1.50086, "type": "quantitative"}, "y": {"datum": -0.73525, "type": "quantitative"}}},
  {"data": {"name": "c_risk"}, "transform": [{"filter": "datum.g == 1"}], "mark": {"type": "text", "fontSize": 23, "align": "center", "baseline": "alphabetic"},
   "encoding": {"x": {"field": "t", "type": "quantitative"}, "y": {"datum": -0.5605, "type": "quantitative"}, "text": {"field": "n", "type": "nominal"}}},
  {"data": {"name": "c_risk"}, "transform": [{"filter": "datum.g == 2"}], "mark": {"type": "text", "fontSize": 23, "align": "center", "baseline": "alphabetic"},
   "encoding": {"x": {"field": "t", "type": "quantitative"}, "y": {"datum": -0.64952, "type": "quantitative"}, "text": {"field": "n", "type": "nominal"}}},
  {"data": {"name": "c_risk"}, "transform": [{"filter": "datum.g == 3"}], "mark": {"type": "text", "fontSize": 23, "align": "center", "baseline": "alphabetic"},
   "encoding": {"x": {"field": "t", "type": "quantitative"}, "y": {"datum": -0.73525, "type": "quantitative"}, "text": {"field": "n", "type": "nominal"}}},
  {"data": {"values": [{}]}, "mark": {"type": "rect", "fill": "#ffffff", "stroke": "#000000", "strokeWidth": 2},
   "encoding": {"x": {"datum": -0.05313, "type": "quantitative"}, "x2": {"datum": 6.05742}, "y": {"datum": -0.7814, "type": "quantitative"}, "y2": {"datum": -1.03528}}},
  {"data": {"values": [{}]}, "mark": {"type": "rect", "fill": "#add8e6"},
   "encoding": {"x": {"datum": 0.03256, "type": "quantitative"}, "x2": {"datum": 0.71208}, "y": {"datum": -0.81108, "type": "quantitative"}, "y2": {"datum": -0.89119}}},
  {"data": {"values": [{}]}, "mark": {"type": "rect", "fill": "#eee0e2"},
   "encoding": {"x": {"datum": 2.09426, "type": "quantitative"}, "x2": {"datum": 2.78235}, "y": {"datum": -0.81108, "type": "quantitative"}, "y2": {"datum": -0.89119}}},
  {"data": {"values": [{}]}, "mark": {"type": "rect", "fill": "#e5e9df"},
   "encoding": {"x": {"datum": 4.16538, "type": "quantitative"}, "x2": {"datum": 4.84405}, "y": {"datum": -0.81108, "type": "quantitative"}, "y2": {"datum": -0.89119}}},
  {"data": {"values": [{}]}, "mark": {"type": "rule", "color": "#0000ff", "strokeWidth": 2.5},
   "encoding": {"x": {"datum": 0.03256, "type": "quantitative"}, "x2": {"datum": 0.71208}, "y": {"datum": -0.96044, "type": "quantitative"}}},
  {"data": {"values": [{}]}, "mark": {"type": "rule", "color": "#9e2f37", "strokeWidth": 2.5},
   "encoding": {"x": {"datum": 2.09426, "type": "quantitative"}, "x2": {"datum": 2.78235}, "y": {"datum": -0.96044, "type": "quantitative"}}},
  {"data": {"values": [{}]}, "mark": {"type": "rule", "color": "#4b7a23", "strokeWidth": 2.5},
   "encoding": {"x": {"datum": 4.16538, "type": "quantitative"}, "x2": {"datum": 4.84405}, "y": {"datum": -0.96044, "type": "quantitative"}}},
  {"data": {"values": [{}]}, "mark": {"type": "text", "text": "95% CI", "fontSize": 23.5, "align": "left", "baseline": "alphabetic"},
   "encoding": {"x": {"datum": 0.82091, "type": "quantitative"}, "y": {"datum": -0.87834, "type": "quantitative"}}},
  {"data": {"values": [{}]}, "mark": {"type": "text", "text": "95% CI", "fontSize": 23.5, "align": "left", "baseline": "alphabetic"},
   "encoding": {"x": {"datum": 2.88346, "type": "quantitative"}, "y": {"datum": -0.87834, "type": "quantitative"}}},
  {"data": {"values": [{}]}, "mark": {"type": "text", "text": "95% CI", "fontSize": 23.5, "align": "left", "baseline": "alphabetic"},
   "encoding": {"x": {"datum": 4.95373, "type": "quantitative"}, "y": {"datum": -0.87834, "type": "quantitative"}}},
  {"data": {"values": [{}]}, "mark": {"type": "text", "text": "GAP stage1", "fontSize": 23.5, "align": "left", "baseline": "alphabetic"},
   "encoding": {"x": {"datum": 0.82091, "type": "quantitative"}, "y": {"datum": -0.98747, "type": "quantitative"}}},
  {"data": {"values": [{}]}, "mark": {"type": "text", "text": "GAP stage2", "fontSize": 23.5, "align": "left", "baseline": "alphabetic"},
   "encoding": {"x": {"datum": 2.88346, "type": "quantitative"}, "y": {"datum": -0.98747, "type": "quantitative"}}},
  {"data": {"values": [{}]}, "mark": {"type": "text", "text": "GAP stage3", "fontSize": 23.5, "align": "left", "baseline": "alphabetic"},
   "encoding": {"x": {"datum": 4.95373, "type": "quantitative"}, "y": {"datum": -0.98747, "type": "quantitative"}}}
]
},
{
"width": 957, "height": 695,
"layer": [
  {"data": {"values": [{}]}, "mark": {"type": "rect", "fill": "#ffffff"},
   "encoding": {
     "x": {"datum": -0.131, "type": "quantitative", "scale": {"domain": [-2.00873, 6.34934], "nice": false, "zero": false},
           "axis": {"orient": "bottom", "offset": -306.4, "values": [0,1,2,3,4,5,6], "format": "d", "tickSize": 8, "labelPadding": 8, "title": null, "zindex": 1}},
     "x2": {"datum": 6.13974},
     "y": {"datum": 1.04435, "type": "quantitative", "scale": {"domain": [-0.96793, 1.11477], "nice": false, "zero": false},
           "axis": {"orient": "left", "offset": -215, "values": [0,0.25,0.5,0.75,1], "labelExpr": "datum.value == 1 ? '1' : datum.value == 0.75 ? '.75' : datum.value == 0.5 ? '.5' : datum.value == 0.25 ? '.25' : '0'", "labelAngle": 270, "labelAlign": "center", "labelBaseline": "alphabetic", "tickSize": 9, "labelPadding": 8, "title": null, "zindex": 1}},
     "y2": {"datum": -0.04975}}},
  {"data": {"name": "grid"}, "mark": {"type": "rule", "color": "#e1ebef", "strokeWidth": 2},
   "encoding": {"x": {"datum": -0.131, "type": "quantitative"}, "x2": {"datum": 6.13974}, "y": {"field": "v", "type": "quantitative"}}},
  {"data": {"name": "g1"}, "mark": {"type": "area", "interpolate": "step-after", "color": "#add8e6"},
   "encoding": {"x": {"field": "t", "type": "quantitative"}, "y": {"field": "lo", "type": "quantitative"}, "y2": {"field": "hi"}}},
  {"data": {"name": "g1"}, "mark": {"type": "line", "interpolate": "step-after", "color": "#8ba6bb", "strokeWidth": 2},
   "encoding": {"x": {"field": "t", "type": "quantitative"}, "y": {"field": "lo", "type": "quantitative"}}},
  {"data": {"name": "g1"}, "mark": {"type": "line", "interpolate": "step-after", "color": "#8ba6bb", "strokeWidth": 2},
   "encoding": {"x": {"field": "t", "type": "quantitative"}, "y": {"field": "hi", "type": "quantitative"}}},
  {"data": {"name": "g4"}, "mark": {"type": "area", "interpolate": "step-after", "color": "#e6d7a3"},
   "encoding": {"x": {"field": "t", "type": "quantitative"}, "y": {"field": "lo", "type": "quantitative"}, "y2": {"field": "hi"}}},
  {"data": {"name": "g4"}, "mark": {"type": "line", "interpolate": "step-after", "color": "#cfa0a2", "strokeWidth": 2},
   "encoding": {"x": {"field": "t", "type": "quantitative"}, "y": {"field": "lo", "type": "quantitative"}}},
  {"data": {"name": "g4"}, "mark": {"type": "line", "interpolate": "step-after", "color": "#cfa0a2", "strokeWidth": 2},
   "encoding": {"x": {"field": "t", "type": "quantitative"}, "y": {"field": "hi", "type": "quantitative"}}},
  {"data": {"name": "g1"}, "mark": {"type": "line", "interpolate": "step-after", "color": "#0000ff", "strokeWidth": 2.5},
   "encoding": {"x": {"field": "t", "type": "quantitative"}, "y": {"field": "s", "type": "quantitative"}}},
  {"data": {"name": "g4"}, "mark": {"type": "line", "interpolate": "step-after", "color": "#ff7f00", "strokeWidth": 2.5},
   "encoding": {"x": {"field": "t", "type": "quantitative"}, "y": {"field": "s", "type": "quantitative"}}},
  {"data": {"values": [{}]}, "mark": {"type": "rule", "color": "#2b2b2b", "strokeWidth": 2},
   "encoding": {"x": {"datum": -0.131, "type": "quantitative"}, "x2": {"datum": 6.13974}, "y": {"datum": -0.04975, "type": "quantitative"}}},
  {"data": {"values": [{}]}, "mark": {"type": "rule", "color": "#2b2b2b", "strokeWidth": 2},
   "encoding": {"x": {"datum": -0.131, "type": "quantitative"}, "y": {"datum": -0.04975, "type": "quantitative"}, "y2": {"datum": 1.04435}}},
  {"data": {"values": [{}]}, "mark": {"type": "text", "text": "d", "fontSize": 42, "fontWeight": "bold", "align": "center", "baseline": "alphabetic"},
   "encoding": {"x": {"datum": -1.46288, "type": "quantitative"}, "y": {"datum": 0.96194, "type": "quantitative"}}},
  {"data": {"values": [{}]}, "mark": {"type": "text", "text": "Transplant-free survival", "fontSize": 28, "angle": 270, "align": "center", "baseline": "alphabetic"},
   "encoding": {"x": {"datum": -0.8821, "type": "quantitative"}, "y": {"datum": 0.5, "type": "quantitative"}}},
  {"data": {"values": [{}]}, "mark": {"type": "text", "text": "Time since enrolment (year)", "fontSize": 28, "align": "center", "baseline": "alphabetic"},
   "encoding": {"x": {"datum": 3.35371, "type": "quantitative"}, "y": {"datum": -0.28169, "type": "quantitative"}}},
  {"data": {"values": [{}]}, "mark": {"type": "text", "text": "Number at risk", "fontSize": 23, "align": "left", "baseline": "alphabetic"},
   "encoding": {"x": {"datum": -1.66812, "type": "quantitative"}, "y": {"datum": -0.42853, "type": "quantitative"}}},
  {"data": {"values": [{}]}, "mark": {"type": "text", "text": "gapstage = 1", "fontSize": 23, "align": "left", "baseline": "alphabetic"},
   "encoding": {"x": {"datum": -1.52838, "type": "quantitative"}, "y": {"datum": -0.51244, "type": "quantitative"}}},
  {"data": {"values": [{}]}, "mark": {"type": "text", "text": "gapstage = 4", "fontSize": 23, "align": "left", "baseline": "alphabetic"},
   "encoding": {"x": {"datum": -1.52838, "type": "quantitative"}, "y": {"datum": -0.59545, "type": "quantitative"}}},
  {"data": {"name": "d_risk"}, "transform": [{"filter": "datum.g == 1"}], "mark": {"type": "text", "fontSize": 23, "align": "center", "baseline": "alphabetic"},
   "encoding": {"x": {"field": "t", "type": "quantitative"}, "y": {"datum": -0.51244, "type": "quantitative"}, "text": {"field": "n", "type": "nominal"}}},
  {"data": {"name": "d_risk"}, "transform": [{"filter": "datum.g == 4"}], "mark": {"type": "text", "fontSize": 23, "align": "center", "baseline": "alphabetic"},
   "encoding": {"x": {"field": "t", "type": "quantitative"}, "y": {"datum": -0.59545, "type": "quantitative"}, "text": {"field": "n", "type": "nominal"}}},
  {"data": {"values": [{}]}, "mark": {"type": "rect", "fill": "#ffffff", "stroke": "#000000", "strokeWidth": 2},
   "encoding": {"x": {"datum": 0.50218, "type": "quantitative"}, "x2": {"datum": 5.50218}, "y": {"datum": -0.64369, "type": "quantitative"}, "y2": {"datum": -0.87474}}},
  {"data": {"values": [{}]}, "mark": {"type": "rect", "fill": "#add8e6"},
   "encoding": {"x": {"datum": 0.58952, "type": "quantitative"}, "x2": {"datum": 1.37991}, "y": {"datum": -0.67126, "type": "quantitative"}, "y2": {"datum": -0.74318}}},
  {"data": {"values": [{}]}, "mark": {"type": "rect", "fill": "#e6d7a3"},
   "encoding": {"x": {"datum": 3.05677, "type": "quantitative"}, "x2": {"datum": 3.84803}, "y": {"datum": -0.67126, "type": "quantitative"}, "y2": {"datum": -0.74318}}},
  {"data": {"values": [{}]}, "mark": {"type": "rule", "color": "#0000ff", "strokeWidth": 2.5},
   "encoding": {"x": {"datum": 0.58952, "type": "quantitative"}, "x2": {"datum": 1.37991}, "y": {"datum": -0.80851, "type": "quantitative"}}},
  {"data": {"values": [{}]}, "mark": {"type": "rule", "color": "#ff7f00", "strokeWidth": 2.5},
   "encoding": {"x": {"datum": 3.05677, "type": "quantitative"}, "x2": {"datum": 3.84803}, "y": {"datum": -0.80851, "type": "quantitative"}}},
  {"data": {"values": [{}]}, "mark": {"type": "text", "text": "95% CI", "fontSize": 23.5, "align": "left", "baseline": "alphabetic"},
   "encoding": {"x": {"datum": 1.50655, "type": "quantitative"}, "y": {"datum": -0.73179, "type": "quantitative"}}},
  {"data": {"values": [{}]}, "mark": {"type": "text", "text": "95% CI", "fontSize": 23.5, "align": "left", "baseline": "alphabetic"},
   "encoding": {"x": {"datum": 3.9738, "type": "quantitative"}, "y": {"datum": -0.73179, "type": "quantitative"}}},
  {"data": {"values": [{}]}, "mark": {"type": "text", "text": "GAP stage 1", "fontSize": 23.5, "align": "left", "baseline": "alphabetic"},
   "encoding": {"x": {"datum": 1.50655, "type": "quantitative"}, "y": {"datum": -0.83309, "type": "quantitative"}}},
  {"data": {"values": [{}]}, "mark": {"type": "text", "text": "GAP stage ≥ 2", "fontSize": 23.5, "align": "left", "baseline": "alphabetic"},
   "encoding": {"x": {"datum": 3.9738, "type": "quantitative"}, "y": {"datum": -0.83309, "type": "quantitative"}}}
]
}
], "spacing": 39, "bounds": "flush"}
]
}
